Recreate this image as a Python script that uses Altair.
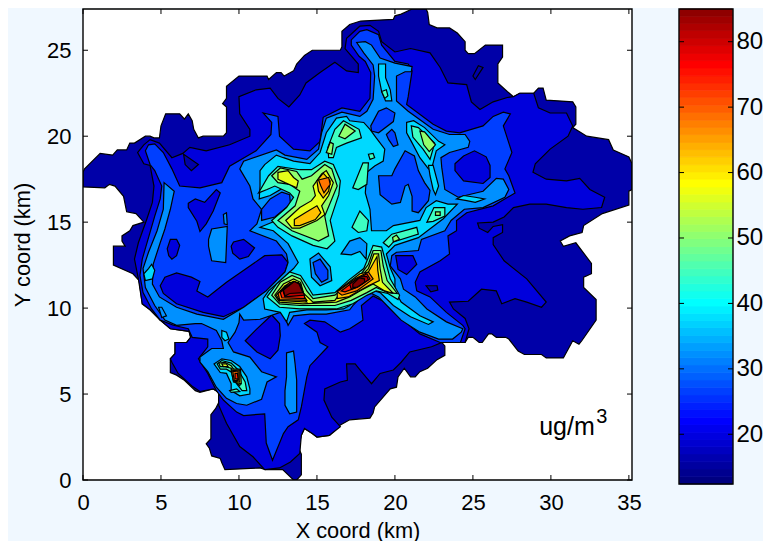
import altair as alt
import pandas as pd

FONT = "Liberation Sans"
X_TICKS = [0, 5, 10, 15, 20, 25, 30, 35]
Y_TICKS = [0, 5, 10, 15, 20, 25]
CB_TICKS = [20, 30, 40, 50, 60, 70, 80]
CB_EDGES = [12.4,13.5,14.7,15.8,17.0,18.1,19.2,20.3,21.5,22.6,23.8,24.9,26.0,27.2,28.3,29.4,30.6,31.7,32.8,34.0,35.1,36.3,37.4,38.5,39.6,40.8,41.9,43.0,44.2,45.3,46.5,47.6,48.7,49.9,51.0,52.1,53.3,54.4,55.5,56.7,57.8,59.0,60.1,61.2,62.4,63.5,64.6,65.8,66.9,68.0,69.2,70.3,71.5,72.6,73.7,74.8,76.0,77.1,78.2,79.4,80.5,81.7,82.8,83.9,85.0]
JET_DOMAIN = [12.4, 21.5, 39.6, 57.8, 75.9, 85.0]
JET_RANGE = ["#000080", "#0000ff", "#00ffff", "#ffff00", "#ff0000", "#800000"]

V1, V2, V3, V4, V5, V6, V7, V8, V9, V10, V11, V12, V13 = 15.3, 19.0, 26.0, 31.7, 36.9, 44.0, 50.0, 56.0, 62.3, 67.6, 73.6, 80.4, 85.0

OUTLINE = [(0,17.05),(0,17.9),(0.1,18.1),(1.1,19.0),(1.9,18.9),(2.2,19.2),(2.8,19.2),(3.0,19.6),(3.3,19.6),(4.0,20.0),(4.3,20.0),(4.55,19.9),(4.9,19.9),(5.0,20.6),(5.3,21.3),(6.2,21.3),(6.5,21.0),(6.75,21.3),(7.0,20.9),(7.1,20.4),(7.4,19.9),(7.7,20.0),(9.0,20.0),(9.2,20.2),(9.2,21.7),(8.95,21.9),(9.2,22.2),(9.2,22.9),(10.0,23.5),(11.8,23.5),(11.9,23.3),(12.4,23.7),(12.7,23.7),(12.9,23.5),(13.5,23.8),(13.7,24.2),(14.2,24.7),(14.7,25.0),(16.5,25.0),(16.6,25.2),(16.6,26.1),(17.1,26.5),(17.8,26.7),(19.9,26.8),(20.0,27.0),(20.4,27.1),(21.1,27.4),(22.0,27.4),(22.1,27.2),(22.2,26.5),(22.7,26.3),(23.5,26.3),(24.0,26.0),(24.5,25.5),(24.5,25.0),(24.7,24.8),(25.1,24.8),(25.8,25.3),(26.9,25.3),(26.9,24.6),(26.6,24.2),(26.6,23.1),(27.2,22.6),(27.6,22.3),(28.0,22.5),(28.9,22.5),(29.2,22.8),(29.5,22.8),(29.7,22.1),(31.4,22.0),(31.6,21.7),(31.6,20.7),(31.4,20.5),(32.3,20.0),(33.7,19.8),(34.0,19.2),(35.0,18.8),(35.2,18.4),(35.2,16.9),(35.0,16.8),(35.0,16.0),(33.3,15.5),(32.1,14.8),(32.0,14.4),(31.2,14.2),(30.6,13.9),(30.8,13.6),(31.6,13.8),(32.1,13.2),(32.6,12.6),(32.6,12.0),(32.1,11.8),(32.1,11.2),(32.9,10.5),(32.9,9.3),(31.98,8.1),(31.8,7.9),(31.4,8.1),(30.8,7.1),(29.7,7.1),(29.4,7.3),(28.3,7.3),(27.9,7.5),(27.3,8.2),(27.1,8.3),(26.5,8.3),(26.2,8.5),(26.0,8.5),(25.6,8.0),(25.4,8.0),(25.0,8.3),(24.7,8.3),(24.5,8.0),(23.4,8.0),(23.1,8.2),(23.0,8.0),(23.2,7.8),(23.2,7.25),(22.7,7.0),(22.1,6.5),(21.6,6.3),(21.3,6.0),(21.0,6.0),(20.6,6.5),(20.2,6.0),(20.1,5.4),(19.7,5.3),(18.7,4.25),(18.6,3.9),(18.4,3.6),(17.1,3.5),(16.5,3.2),(15.8,2.6),(15.0,2.5),(14.7,2.7),(14.2,3.0),(14.0,2.6),(13.8,1.9),(14.0,1.5),(14.0,0.3),(13.7,0),(13.5,0),(12.8,0.6),(11.7,0.6),(11.35,0.7),(9.1,0.6),(8.9,1.0),(8.8,1.25),(8.25,1.4),(8.1,1.85),(7.9,2.1),(8.2,2.4),(8.2,3.8),(8.5,4.15),(8.7,4.5),(8.7,5.1),(8.35,5.3),(7.5,5.1),(7.2,5.2),(6.5,5.8),(6.0,6.1),(5.6,6.25),(5.6,7.05),(5.9,7.35),(5.9,8.0),(6.65,8.0),(6.9,8.3),(6.8,8.65),(5.6,8.8),(4.95,9.3),(4.3,9.9),(3.8,10.25),(3.6,11.6),(3.2,12.0),(1.95,12.5),(1.95,13.6),(2.7,13.6),(2.5,13.9),(2.5,14.2),(3.0,14.5),(3.2,14.8),(3.9,15.0),(3.4,15.5),(2.8,15.6),(2.6,16.5),(2.05,17.1),(1.7,17.2),(1.4,17.0)]

L2_MAIN = [(3.8,10.25),(3.55,11.7),(3.3,12.85),(3.55,13.8),(4.1,15.2),(4.45,16.15),(4.55,17.1),(4.3,18.3),(3.9,18.4),(3.5,19.05),(3.9,19.5),(4.3,19.8),(4.9,19.6),(5.7,18.75),(6.4,19.0),(6.85,19.35),(7.9,19.15),(9.4,19.5),(10.7,20.0),(10.7,20.4),(10.05,21.3),(10.0,22.3),(11.1,22.7),(12.0,22.8),(12.5,22.2),(13.2,21.7),(13.9,22.4),(14.3,23.1),(15.2,23.7),(16.15,24.3),(16.9,23.8),(17.65,23.7),(17.65,24.2),(16.8,25.1),(16.9,25.7),(17.75,26.4),(18.4,26.45),(18.95,26.1),(19.15,25.5),(20.0,24.9),(21.0,25.1),(22.25,24.85),(22.9,24.0),(23.4,23.1),(24.6,23.0),(24.9,22.0),(25.45,21.55),(26.3,22.0),(27.2,22.25),(27.6,22.3),(28.0,22.5),(28.9,22.5),(29.2,21.65),(29.95,21.35),(31.0,21.35),(31.4,20.6),(31.1,20.0),(29.95,19.25),(29.0,18.4),(28.85,17.9),(29.7,17.5),(31.0,17.4),(31.85,17.55),(32.5,16.9),(33.45,16.45),(33.25,15.85),(32.05,15.75),(31.0,15.85),(29.7,16.05),(28.65,16.05),(27.6,15.85),(27.0,15.3),(26.3,15.0),(25.3,14.95),(25.4,14.65),(25.95,14.4),(26.3,14.75),(26.9,14.85),(26.9,14.4),(26.3,14.1),(26.3,13.7),(27.0,12.75),(28.45,11.7),(29.7,10.35),(29.4,10.05),(28.45,10.35),(27.7,10.55),(26.85,10.25),(26.5,11.0),(25.55,11.1),(24.7,10.4),(23.5,10.35),(23.75,9.95),(24.5,9.4),(24.75,8.8),(24.5,8.0),(23.4,8.0),(23.1,8.2),(23.0,8.0),(22.35,7.75),(20.95,7.45),(20.4,6.85),(19.9,6.4),(19.05,6.2),(18.5,5.6),(17.85,6.3),(17.45,6.75),(16.9,6.75),(16.95,5.8),(16.5,5.7),(15.5,5.3),(15.45,4.65),(15.95,3.65),(16.5,3.1),(15.8,2.6),(15.0,2.5),(14.7,2.7),(14.2,3.0),(14.0,2.6),(13.9,1.55),(13.3,1.05),(12.6,0.7),(11.65,0.6),(10.9,1.35),(10.05,1.95),(9.2,3.3),(8.7,4.35),(8.7,5.1),(8.35,5.3),(7.5,5.15),(7.0,5.45),(6.1,6.2),(5.7,6.85),(5.6,7.05),(5.9,7.35),(5.9,8.0),(6.65,8.0),(6.9,8.3),(6.8,8.65),(5.6,8.8),(4.95,9.3),(4.3,9.9)]
L1_PATCH_A = [(6.45,18.95),(7.4,18.35),(6.95,18.0),(6.55,18.35)]
L1_PATCH_B = [(22.0,11.3),(22.7,11.3),(22.75,11.05),(22.3,10.95)]
L1_PATCH_C = [(25.0,23.5),(25.35,24.1),(25.65,24.0),(25.15,23.3)]

L3_MAIN = [(3.65,11.9),(3.8,12.85),(4.2,14.1),(4.6,15.35),(4.95,16.35),(5.05,17.1),(4.6,18.0),(4.3,18.35),(4.0,19.15),(4.2,19.5),(4.6,19.55),(5.15,19.05),(5.7,18.1),(6.2,17.1),(7.5,17.0),(8.9,17.3),(9.4,18.25),(11.1,19.15),(12.05,20.1),(12.1,20.8),(11.55,21.35),(12.5,21.15),(12.6,20.0),(13.5,19.25),(14.55,19.15),(15.2,19.7),(15.4,21.1),(16.6,21.65),(17.75,21.45),(18.4,22.2),(18.45,23.7),(18.1,24.35),(17.7,24.65),(17.2,25.3),(17.2,25.6),(17.75,26.1),(18.2,26.2),(18.95,25.9),(19.15,25.3),(20.0,24.35),(20.85,24.2),(21.1,23.8),(20.85,22.3),(20.75,21.85),(22.45,20.7),(23.3,20.3),(24.15,20.2),(25.65,20.6),(26.3,21.15),(26.95,21.4),(27.4,21.3),(26.95,20.6),(27.5,19.05),(27.05,18.1),(27.3,17.7),(27.7,16.7),(26.3,15.95),(24.6,15.55),(23.95,15.1),(23.95,14.5),(23.4,14.2),(23.5,13.15),(22.9,12.75),(21.6,12.1),(21.3,11.5),(21.4,11.0),(22.25,10.65),(23.3,9.75),(24.35,9.0),(24.5,8.8),(24.2,8.0),(22.9,8.0),(21.6,8.5),(20.5,9.3),(20.0,9.95),(19.15,10.45),(18.6,10.7),(17.85,10.15),(17.95,9.3),(17.1,8.8),(16.5,8.6),(15.5,9.2),(14.55,9.3),(14.2,9.1),(15.0,8.6),(15.2,8.0),(15.7,7.75),(14.55,6.65),(14.35,6.0),(14.0,4.25),(13.8,3.5),(13.15,3.1),(12.85,2.7),(12.15,1.15),(11.75,2.15),(11.65,3.85),(10.3,3.75),(9.85,3.95),(9.0,4.65),(8.55,5.2),(8.0,6.2),(7.4,7.05),(8.0,7.75),(8.0,8.2),(7.0,8.3),(6.75,8.8),(5.8,9.0),(4.95,9.3),(4.4,9.95),(3.85,10.9)]
L2_SAUSAGE = [(4.95,11.3),(5.25,11.8),(6.0,12.05),(6.95,11.8),(7.5,11.55),(7.3,11.0),(8.0,10.65),(9.2,11.5),(11.65,13.05),(12.75,13.1),(13.15,12.65),(12.95,12.1),(11.75,11.0),(10.3,10.05),(9.0,9.5),(7.7,9.75),(6.0,10.25),(5.15,10.85)]
L2_BLOB_B = [(6.75,16.1),(7.2,16.35),(7.8,16.15),(8.55,16.9),(8.8,16.7),(8.35,15.65),(7.9,14.9),(7.5,14.45),(7.3,15.05),(6.75,15.85)]
L2_BLOB_C = [(5.4,13.45),(5.6,14.0),(6.0,14.0),(6.2,13.65),(6.0,13.05),(5.7,12.85),(5.5,13.05)]
L2_BLOB_D = [(9.5,13.6),(9.65,13.85),(10.3,14.0),(11.0,13.5),(10.6,13.0),(10.05,12.85),(9.6,13.2)]
L2_BLOB_G = [(23.85,18.4),(24.4,18.85),(25.1,19.15),(25.85,18.8),(26.1,18.3),(26.1,17.6),(25.65,17.25),(24.4,17.4),(23.85,18.0)]
L2_BLOB_H = [(20.05,13.05),(21.15,13.05),(21.4,12.55),(20.75,11.95),(20.2,12.25)]
L2_BLOB_I = [(10.4,8.1),(11.1,8.75),(12.1,9.6),(12.6,9.1),(12.65,8.4),(12.5,7.55),(12.0,7.05),(11.15,7.45)]

L4_MAIN = [(5.2,17.3),(5.85,16.8),(5.6,15.75),(5.25,14.6),(4.95,13.8),(4.5,12.55),(4.45,11.4),(4.9,10.65),(6.0,10.05),(7.3,9.65),(9.0,9.35),(10.3,10.05),(11.75,11.0),(12.95,12.1),(13.15,12.65),(13.05,13.15),(12.4,13.9),(10.7,14.5),(11.15,14.9),(11.45,15.75),(10.9,16.35),(10.7,17.1),(10.05,18.1),(10.3,18.55),(12.4,19.2),(12.95,18.9),(14.35,18.65),(15.1,19.25),(15.3,20.2),(15.6,21.05),(16.6,21.4),(17.75,21.15),(18.2,21.45),(18.6,22.15),(18.7,23.5),(18.6,24.15),(18.0,24.85),(17.55,25.45),(18.1,25.5),(18.5,25.3),(19.05,24.55),(20.0,24.25),(21.1,24.05),(21.05,23.75),(20.65,23.75),(20.1,23.5),(20.1,22.05),(20.85,21.45),(22.45,20.4),(23.5,20.1),(24.5,20.1),(24.8,19.7),(24.7,19.35),(23.5,19.05),(22.95,18.75),(23.0,18.2),(23.2,16.9),(24.05,16.45),(25.65,16.8),(26.5,17.55),(26.95,17.5),(27.3,16.9),(27.05,16.45),(25.65,15.85),(24.45,15.75),(23.6,15.1),(23.2,14.5),(21.7,14.0),(21.5,13.35),(20.1,13.25),(19.8,13.05),(19.7,12.45),(20.35,11.7),(20.55,11.1),(21.3,10.65),(22.05,9.95),(23.3,9.2),(24.35,8.8),(24.25,8.6),(23.7,8.2),(22.8,8.2),(21.6,8.6),(20.4,9.3),(19.7,9.95),(18.95,10.65),(18.5,10.85),(17.85,10.65),(17.3,10.15),(17.1,9.9),(15.6,9.65),(14.55,9.65),(13.5,9.55),(13.15,9.0),(12.85,9.7),(12.65,9.75),(11.35,9.35),(10.3,9.3),(10.05,9.65),(10.0,9.15),(9.75,8.6),(9.3,8.0),(9.65,7.45),(10.7,7.15),(11.45,6.3),(12.4,6.0),(11.8,5.7),(11.45,4.7),(10.5,4.35),(9.85,4.45),(9.2,4.75),(8.55,5.4),(8.0,6.3),(7.5,6.85),(7.5,7.15),(8.25,7.65),(9.0,7.65),(8.9,8.1),(8.55,8.7),(7.6,9.1),(7.2,9.1),(6.0,9.0),(5.25,9.3),(4.6,10.15),(4.0,11.2),(3.85,12.3),(4.2,13.25),(4.75,14.5),(5.15,15.75)]
L4_STRIP = [(13.05,7.4),(13.5,7.5),(13.6,6.75),(13.7,5.8),(13.7,3.95),(13.25,3.85),(12.95,4.35),(12.95,5.2),(13.05,6.0),(13.05,6.75)]
L4_WEST_BIG = [(8.05,14.0),(8.25,14.6),(9.25,14.75),(9.15,12.65),(8.25,12.75),(8.05,13.6)]
L4_WEST_SMALL = [(9.0,15.45),(9.2,15.55),(9.25,14.85),(9.05,14.9)]
L4_SW_SMALL = [(4.85,10.05),(5.05,10.05),(5.35,9.55),(5.05,9.45)]
L3_CENTRAL = [(18.95,17.7),(19.8,17.7),(20.0,18.1),(20.65,19.15),(21.25,18.85),(21.5,18.0),(21.9,17.3),(22.25,16.85),(22.15,16.25),(21.5,15.55),(21.1,15.65),(21.1,16.5),(20.85,17.2),(20.65,17.1),(20.35,16.15),(19.8,16.05),(19.05,16.6)]
L3_NORTH = [(18.45,20.6),(18.95,21.45),(19.45,21.65),(20.0,21.35),(19.9,20.85),(18.95,20.2),(18.5,20.3)]
L3_SMALL = [(19.45,20.1),(19.8,20.4),(20.0,20.2),(20.2,19.5),(19.9,19.4),(19.6,19.8)]
L3_POCKET = [(11.45,15.75),(12.0,16.35),(12.75,16.75),(13.25,16.6),(13.3,16.05),(12.3,15.3),(11.45,15.1)]

L5_MAIN = [(17.1,20.9),(16.9,21.15),(16.25,21.05),(15.6,20.2),(15.2,19.05),(14.55,18.4),(13.5,18.55),(12.85,18.75),(12.4,18.9),(11.65,18.35),(11.35,18.0),(11.35,17.1),(11.3,16.35),(12.0,16.55),(12.75,16.95),(13.5,16.8),(13.5,16.05),(12.4,15.1),(11.35,14.7),(12.2,14.5),(13.15,13.75),(13.8,12.65),(13.5,12.3),(12.65,11.6),(11.9,11.0),(11.55,10.55),(11.65,9.95),(12.65,9.75),(13.05,9.2),(13.25,9.75),(14.35,9.9),(15.6,9.9),(16.7,9.95),(17.1,10.15),(17.55,10.55),(18.4,11.1),(19.05,10.9),(19.9,10.15),(21.0,9.5),(22.15,9.05),(22.45,9.2),(21.6,9.55),(20.4,10.35),(20.0,11.0),(20.0,11.7),(19.7,12.35),(19.45,13.15),(20.0,13.65),(21.5,14.1),(23.1,15.2),(24.0,16.05),(23.4,16.05),(22.65,16.25),(22.0,15.85),(21.6,15.1),(19.9,14.8),(19.45,14.5),(18.5,14.5),(18.4,15.75),(18.1,16.7),(18.2,17.9),(18.7,18.27),(19.25,18.55),(19.35,19.25),(18.8,19.9),(18.4,20.4),(18.0,20.8)]
L5_NE = [(20.75,20.8),(21.2,20.9),(21.9,20.5),(22.8,19.7),(23.2,19.5),(22.65,19.15),(22.35,18.1),(22.15,18.1),(21.6,18.75),(21.05,19.7),(20.75,20.2)]
L5_LINK = [(22.15,18.3),(22.45,18.3),(22.8,17.1),(22.6,16.6),(22.45,16.9),(22.25,17.7)]
L5_EAST = [(23.95,16.35),(24.4,16.55),(25.15,16.45),(25.75,16.35),(25.15,16.15),(24.6,16.25)]
L5_NORTH = [(18.95,24.2),(19.4,24.2),(19.4,23.4),(19.7,22.7),(19.8,22.05),(19.4,22.05),(19.15,22.6),(18.95,23.5)]
L5_WEST = [(4.2,12.3),(4.4,12.55),(4.6,12.2),(4.45,11.7),(4.0,11.6),(3.9,12.0)]
L5_NECK = [(8.9,8.7),(9.2,8.6),(9.35,8.2),(9.1,8.1),(8.9,8.3)]
L5_SW = [(8.4,6.75),(8.9,7.05),(9.5,6.95),(10.05,6.6),(10.5,6.0),(10.7,5.3),(10.7,5.0),(10.05,4.9),(9.5,5.2),(9.5,5.6),(9.2,6.2),(8.8,6.25)]
L4_RING = [(14.55,12.85),(15.1,13.2),(15.85,12.4),(15.95,11.6),(15.2,11.3),(14.65,11.8)]
L3_RING = [(14.75,12.65),(15.2,12.85),(15.7,12.2),(15.7,11.7),(15.3,11.5),(14.9,12.0)]
L4_BLOB = [(16.55,13.15),(17.1,13.9),(17.75,14.1),(18.2,13.75),(18.15,12.85),(17.75,13.3),(17.2,13.1)]

L6_WEST = [(11.25,16.7),(11.9,17.7),(12.5,18.25),(13.9,18.05),(14.65,18.05),(15.5,18.55),(16.05,18.35),(16.5,17.4),(16.4,16.6),(15.85,15.1),(16.15,13.9),(15.65,13.45),(14.75,13.65),(13.4,14.2),(12.5,14.7),(12.1,15.1),(13.05,15.85),(13.5,16.45),(13.25,16.7),(12.3,17.1),(11.8,16.9)]
L6_TOP = [(17.3,17.0),(17.95,18.45),(18.3,18.45),(18.2,17.2),(17.65,16.9)]
L6_MID = [(17.25,14.7),(17.75,15.65),(18.3,15.1),(18.2,14.5),(17.65,14.4)]
L6_SMALL = [(18.3,18.95),(18.6,19.0),(18.7,18.75),(18.4,18.65)]
L6_UP = [(15.7,19.35),(16.15,20.4),(16.7,20.9),(17.7,20.4),(17.85,19.9),(16.9,19.6),(16.25,19.35),(16.05,18.75),(15.75,18.75)]
L6_NE = [(21.05,20.6),(21.5,20.5),(22.55,19.6),(22.25,18.65),(21.8,19.25),(21.15,19.95)]
L6_NORTH = [(19.15,22.6),(19.45,22.7),(19.55,22.35),(19.35,22.2)]
L6_RING = [(22.05,15.0),(22.5,15.85),(23.2,15.85),(23.2,15.35),(22.45,15.05)]
L6_BAND = [(19.25,13.8),(19.8,14.3),(21.4,14.7),(21.5,14.3),(19.9,13.85),(19.6,13.55)]
L6_HOT = [(11.8,10.65),(12.4,11.4),(13.25,12.1),(13.95,11.9),(14.45,11.2),(14.75,10.75),(16.15,10.9),(17.0,11.6),(18.0,12.3),(18.3,12.95),(18.6,13.65),(19.15,13.55),(19.45,12.55),(19.7,11.7),(20.3,10.75),(20.2,10.5),(19.55,10.85),(18.8,11.0),(18.2,10.75),(17.3,10.25),(16.25,9.95),(13.9,9.95),(12.6,10.05)]
L6_SW = [(8.6,6.75),(8.9,6.95),(9.5,6.8),(9.95,6.4),(10.4,5.7),(10.5,5.2),(10.2,5.2),(9.85,5.6),(9.65,6.2),(9.2,6.45),(8.8,6.45)]
L6_SW_TRI = [(9.4,5.2),(9.85,5.3),(10.05,5.15),(9.5,5.1)]

L7_WEST = [(12.1,17.7),(12.65,18.15),(13.7,17.95),(14.05,17.5),(14.65,17.7),(15.5,18.35),(15.95,18.1),(16.3,17.1),(15.5,15.35),(15.75,14.2),(15.1,13.9),(13.4,14.5),(12.5,15.1),(13.6,15.95),(13.9,16.8),(13.25,17.2),(12.5,17.3)]
L7_STEM = [(15.6,19.05),(15.85,19.65),(16.05,19.55),(15.95,18.95)]
L7_UP = [(16.4,20.0),(16.8,20.7),(17.45,20.3),(16.8,19.85)]
L7_NE = [(21.6,20.3),(21.9,20.25),(22.6,19.5),(22.2,19.1),(21.85,19.5)]
L7_RING = [(22.6,15.6),(22.9,15.6),(22.9,15.4),(22.6,15.4)]
L7_BAND = [(19.85,14.1),(20.1,14.25),(20.3,14.0),(19.9,13.85)]
L7_HOT = [(12.1,10.75),(12.65,11.5),(13.4,11.9),(13.95,11.7),(14.35,11.0),(14.75,10.55),(16.15,10.75),(17.0,11.4),(17.85,12.0),(18.3,12.55),(18.6,13.35),(19.1,13.35),(19.25,12.45),(19.5,11.6),(20.15,10.85),(19.55,10.9),(18.8,11.2),(18.2,10.9),(17.2,10.45),(16.15,10.15),(13.9,10.15),(12.6,10.25)]
L7_SW = [(8.7,6.8),(9.1,6.85),(9.5,6.65),(9.85,6.2),(10.1,5.6),(10.05,5.5),(9.75,5.7),(9.5,6.5),(9.1,6.6),(8.8,6.6)]

L8_WEST = [(12.5,17.9),(13.15,18.0),(13.5,17.6),(13.8,17.4),(13.7,17.0),(12.95,17.3),(12.5,17.5)]
L8_MID = [(14.75,17.1),(15.3,17.8),(15.6,18.0),(16.05,17.3),(15.75,16.55),(15.3,15.95),(15.5,15.45),(15.0,15.1),(13.9,14.65),(13.4,14.65),(13.0,15.1),(13.9,15.85),(14.65,16.25),(14.9,16.55)]
L8_HOT = [(12.3,10.75),(12.85,11.4),(13.5,11.7),(13.95,11.5),(14.15,10.85),(14.75,10.35),(16.15,10.45),(16.6,11.0),(17.75,11.8),(18.3,12.3),(18.65,13.15),(18.95,13.15),(19.05,12.3),(19.2,11.5),(19.9,10.85),(19.35,11.0),(18.6,11.4),(17.75,11.0),(17.1,10.65),(16.25,10.35),(14.1,10.25),(12.6,10.35)]
L8_SW_A = [(8.9,6.75),(9.2,6.75),(9.3,6.6),(9.0,6.6)]
L8_SW_B = [(9.5,6.45),(10.1,6.45),(10.15,5.6),(9.65,5.7)]

L9_LOW = [(13.55,15.15),(14.25,15.55),(15.0,15.95),(15.25,15.55),(14.9,15.15),(13.9,14.8),(13.55,14.8)]
L9_UP = [(15.0,17.4),(15.4,17.85),(15.85,17.4),(15.75,16.8),(15.4,16.4),(15.1,16.8)]
L9_HOT_W = [(12.4,10.75),(12.95,11.3),(13.5,11.55),(13.95,11.4),(14.15,10.65),(14.35,10.35),(12.6,10.45)]
L9_HOT_E = [(16.3,11.0),(16.9,11.4),(17.75,12.0),(18.3,12.1),(18.85,13.0),(18.9,12.2),(19.0,11.6),(18.3,11.3),(17.6,10.95),(17.0,10.65),(16.3,10.55)]
L9_SW = [(9.5,6.35),(10.05,6.4),(10.05,5.7),(9.65,5.75)]

L10_UP = [(15.1,17.45),(15.75,17.6),(15.85,17.2),(15.45,16.7),(15.25,17.1)]
L10_HOT_W = [(12.5,10.85),(13.15,11.4),(13.8,11.5),(14.2,10.65),(14.35,10.45),(12.6,10.5)]
L10_HOT_E = [(16.3,10.95),(17.45,11.7),(18.3,12.1),(18.6,11.7),(17.55,11.0),(16.6,10.75)]
L10_SW = [(9.6,6.3),(9.95,6.35),(9.95,5.8),(9.7,5.8)]
L11_HOT_W = [(12.65,10.9),(13.25,11.5),(13.8,11.45),(14.2,10.75),(14.2,10.55),(12.75,10.6)]
L11_HOT_E = [(16.55,11.0),(17.45,11.6),(18.2,12.0),(18.4,11.7),(17.55,11.2),(16.8,10.95)]
L11_SW = [(9.75,6.2),(9.9,6.2),(9.95,5.85),(9.75,5.9)]
L12_HOT_W = [(12.8,11.05),(13.5,11.55),(13.85,11.45),(14.2,10.75),(12.95,10.65)]
L12_HOT_E = [(17.1,11.4),(17.75,11.8),(18.2,11.85),(18.3,11.65),(17.65,11.25),(17.2,11.1)]
L13_HOT_W = [(12.85,11.05),(13.55,11.55),(13.85,11.4),(14.1,10.9),(13.25,10.85),(12.95,10.7)]
L13_HOT_E = [(17.3,11.4),(17.7,11.75),(18.05,11.7),(18.05,11.5),(17.55,11.2),(17.3,11.2)]

LAYERS = [
    (V1, [OUTLINE]),
    (V2, [L2_MAIN]),
    (V1, [L1_PATCH_A, L1_PATCH_B, L1_PATCH_C]),
    (V3, [L3_MAIN]),
    (V2, [L2_SAUSAGE, L2_BLOB_B, L2_BLOB_C, L2_BLOB_D, L2_BLOB_G, L2_BLOB_H, L2_BLOB_I]),
    (V4, [L4_MAIN, L4_STRIP, L4_WEST_BIG, L4_WEST_SMALL, L4_SW_SMALL]),
    (V3, [L3_CENTRAL, L3_NORTH, L3_SMALL, L3_POCKET]),
    (V5, [L5_MAIN, L5_NE, L5_LINK, L5_EAST, L5_NORTH, L5_WEST, L5_NECK, L5_SW]),
    (V4, [L4_RING, L4_BLOB]),
    (V3, [L3_RING]),
    (V6, [L6_WEST, L6_TOP, L6_MID, L6_SMALL, L6_UP, L6_NE, L6_NORTH, L6_RING, L6_BAND, L6_HOT, L6_SW, L6_SW_TRI]),
    (V7, [L7_WEST, L7_STEM, L7_UP, L7_NE, L7_RING, L7_BAND, L7_HOT, L7_SW]),
    (V8, [L8_WEST, L8_MID, L8_HOT, L8_SW_A, L8_SW_B]),
    (V9, [L9_LOW, L9_UP, L9_HOT_W, L9_HOT_E, L9_SW]),
    (V10, [L10_UP, L10_HOT_W, L10_HOT_E, L10_SW]),
    (V11, [L11_HOT_W, L11_HOT_E, L11_SW]),
    (V12, [L12_HOT_W, L12_HOT_E]),
    (V13, [L13_HOT_W, L13_HOT_E]),
]

rows = []
pid = 0
for value, polys in LAYERS:
    for poly in polys:
        pid += 1
        for i, (x, y) in enumerate(poly):
            rows.append({"x": x, "y": y, "v": value, "poly": pid, "i": i})
poly_df = pd.DataFrame(rows)

W, H = 549, 471
CBW, CBH = 54, 475
jet = alt.Scale(domain=JET_DOMAIN, range=JET_RANGE, interpolate="rgb")
xs = alt.Scale(domain=[0, 35.2], nice=False, zero=False)
ys = alt.Scale(domain=[0, 27.4], nice=False, zero=False)

polys = alt.Chart(poly_df).mark_line(
    interpolate="linear-closed", stroke="black", strokeWidth=1.2, clip=True, filled=False
).encode(
    x=alt.X("x:Q", scale=xs, axis=alt.Axis(values=X_TICKS, title="X coord (km)", ticks=False, domain=False, grid=False, labelFlush=False,
                                           labelFont=FONT, labelFontSize=22, labelColor="black", labelPadding=12,
                                           titleFont=FONT, titleFontSize=21.8, titleFontWeight="normal", titleColor="black", titlePadding=7)),
    y=alt.Y("y:Q", scale=ys, axis=alt.Axis(values=Y_TICKS, title="Y coord (km)", ticks=False, domain=False, grid=False, labelFlush=False,
                                           labelFont=FONT, labelFontSize=22, labelColor="black", labelPadding=12,
                                           titleFont=FONT, titleFontSize=21.8, titleFontWeight="normal", titleColor="black", titlePadding=12)),
    fill=alt.Fill("v:Q", scale=jet, legend=None),
    detail="poly:N",
    order="i:Q",
)

one = pd.DataFrame({"a": [0]})
def frame(w, h):
    return alt.Chart(one).mark_rect(filled=False, stroke="black", strokeWidth=1.4).encode(
        x=alt.value(0), x2=alt.value(w), y=alt.value(0), y2=alt.value(h))

xt = pd.DataFrame({"t": X_TICKS})
yt = pd.DataFrame({"t": Y_TICKS})
ticks = [
    alt.Chart(xt).mark_rule(color="black").encode(x=alt.X("t:Q", scale=xs), y=alt.value(H), y2=alt.value(H - 5)),
    alt.Chart(xt).mark_rule(color="black").encode(x=alt.X("t:Q", scale=xs), y=alt.value(0), y2=alt.value(5)),
    alt.Chart(yt).mark_rule(color="black").encode(y=alt.Y("t:Q", scale=ys), x=alt.value(0), x2=alt.value(5)),
    alt.Chart(yt).mark_rule(color="black").encode(y=alt.Y("t:Q", scale=ys), x=alt.value(W), x2=alt.value(W - 5)),
]
unit_df = pd.DataFrame({"x": [29.25], "y": [2.6], "t": ["ug/m"]})
sup_df = pd.DataFrame({"x": [32.9], "y": [3.3], "t": ["3"]})
unit = alt.Chart(unit_df).mark_text(font=FONT, fontSize=25, align="left", baseline="alphabetic", color="black").encode(
    x=alt.X("x:Q", scale=xs), y=alt.Y("y:Q", scale=ys), text="t:N")
sup = alt.Chart(sup_df).mark_text(font=FONT, fontSize=20, align="left", baseline="alphabetic", color="black").encode(
    x=alt.X("x:Q", scale=xs), y=alt.Y("y:Q", scale=ys), text="t:N")

main = alt.layer(polys, *ticks, unit, sup, frame(W, H)).properties(width=W, height=H)

cb_df = pd.DataFrame({"lo": CB_EDGES[:-1], "hi": CB_EDGES[1:]})
cs = alt.Scale(domain=[12.4, 85.0], nice=False, zero=False)
bar = alt.Chart(cb_df).mark_rect(strokeWidth=0.8).encode(
    x=alt.value(0.5), x2=alt.value(CBW - 0.5),
    y=alt.Y("lo:Q", scale=cs, axis=alt.Axis(orient="right", values=CB_TICKS, title=None, ticks=False, domain=False, grid=False,
                                            labelFont=FONT, labelFontSize=24, labelColor="black", labelPadding=3)),
    y2="hi:Q",
    fill=alt.Fill("lo:Q", scale=jet, legend=None),
    stroke=alt.Stroke("lo:Q", scale=jet, legend=None),
)
ct = pd.DataFrame({"t": CB_TICKS})
cb_ticks = [
    alt.Chart(ct).mark_rule(color="black").encode(y=alt.Y("t:Q", scale=cs), x=alt.value(0), x2=alt.value(5)),
    alt.Chart(ct).mark_rule(color="black").encode(y=alt.Y("t:Q", scale=cs), x=alt.value(CBW), x2=alt.value(CBW - 5)),
]
colorbar = alt.layer(bar, *cb_ticks, frame(CBW, CBH)).properties(width=CBW, height=CBH)

chart = alt.hconcat(main, colorbar, spacing=36).resolve_scale(fill="independent", x="independent", y="independent").properties(
    padding={"left": 4, "top": 0, "right": 0, "bottom": 0}, background="#f0f8ff"
).configure_view(stroke=None, fill="white")

chart.save("out.html", embed_options={"renderer": "svg", "actions": False})
